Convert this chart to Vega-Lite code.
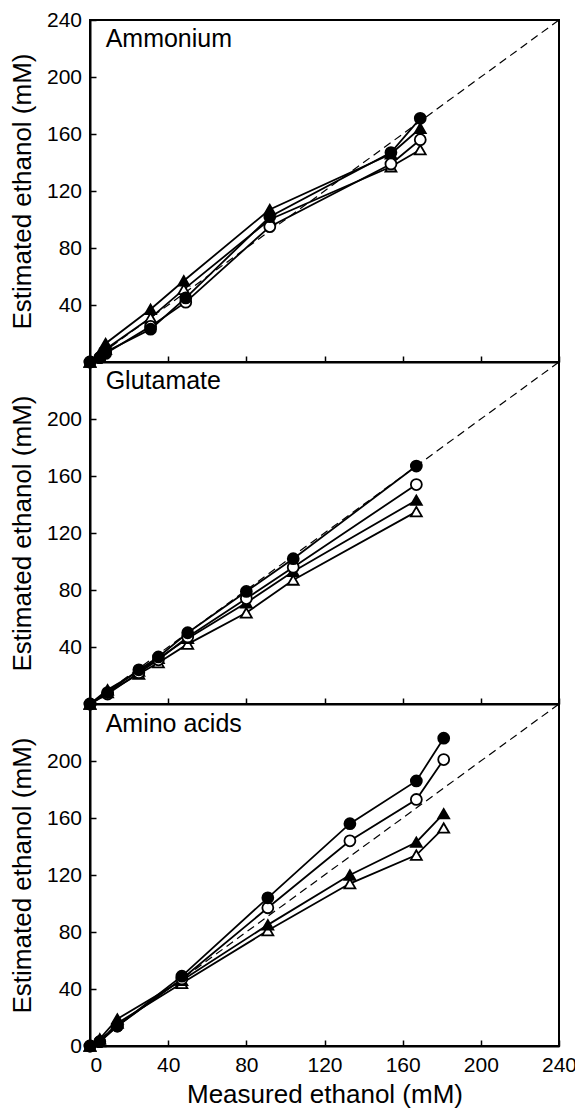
{
  "$schema": "https://vega.github.io/schema/vega-lite/v6.json",
  "padding": {"left": 8, "top": 8, "right": 0, "bottom": 0},
  "spacing": 0,
  "bounds": "flush",
  "background": "white",
  "config": {
    "font": "Liberation Sans",
    "concat": {"spacing": 0},
    "view": {"stroke": "black", "strokeWidth": 2},
    "axis": {
      "domainColor": "black", "domainWidth": 2,
      "tickColor": "black", "tickWidth": 1.5, "tickSize": -6,
      "labelFontSize": 21, "labelColor": "black", "labelPadding": 14.5,
      "titleFontSize": 26, "titleFontWeight": "normal", "titleColor": "black",
      "grid": false
    }
  },
  "datasets": {
    "diag": [{"x": 0, "y": 0}, {"x": 240, "y": 240}],
    "labels": [
      {"panel": "Ammonium", "x": 8, "y": 227, "text": "Ammonium"},
      {"panel": "Glutamate", "x": 8, "y": 227, "text": "Glutamate"},
      {"panel": "Amino acids", "x": 8, "y": 226, "text": "Amino acids"}
    ],
    "obs": [
      {"panel": "Ammonium", "series": "ot", "x": 0, "y": 0},
      {"panel": "Ammonium", "series": "ot", "x": 5, "y": 4},
      {"panel": "Ammonium", "series": "ot", "x": 8, "y": 9},
      {"panel": "Ammonium", "series": "ot", "x": 31, "y": 31},
      {"panel": "Ammonium", "series": "ot", "x": 48, "y": 51},
      {"panel": "Ammonium", "series": "ot", "x": 92, "y": 100},
      {"panel": "Ammonium", "series": "ot", "x": 154, "y": 137},
      {"panel": "Ammonium", "series": "ot", "x": 169, "y": 149},
      {"panel": "Ammonium", "series": "ft", "x": 0, "y": 0},
      {"panel": "Ammonium", "series": "ft", "x": 5, "y": 6},
      {"panel": "Ammonium", "series": "ft", "x": 8, "y": 13},
      {"panel": "Ammonium", "series": "ft", "x": 31, "y": 37},
      {"panel": "Ammonium", "series": "ft", "x": 48, "y": 57},
      {"panel": "Ammonium", "series": "ft", "x": 92, "y": 107},
      {"panel": "Ammonium", "series": "ft", "x": 154, "y": 146},
      {"panel": "Ammonium", "series": "ft", "x": 169, "y": 164},
      {"panel": "Ammonium", "series": "oc", "x": 0, "y": 0},
      {"panel": "Ammonium", "series": "oc", "x": 5, "y": 3},
      {"panel": "Ammonium", "series": "oc", "x": 8, "y": 6},
      {"panel": "Ammonium", "series": "oc", "x": 31, "y": 25},
      {"panel": "Ammonium", "series": "oc", "x": 49, "y": 42},
      {"panel": "Ammonium", "series": "oc", "x": 92, "y": 95},
      {"panel": "Ammonium", "series": "oc", "x": 154, "y": 139},
      {"panel": "Ammonium", "series": "oc", "x": 169, "y": 156},
      {"panel": "Ammonium", "series": "fc", "x": 0, "y": 0},
      {"panel": "Ammonium", "series": "fc", "x": 5, "y": 3},
      {"panel": "Ammonium", "series": "fc", "x": 8, "y": 7},
      {"panel": "Ammonium", "series": "fc", "x": 31, "y": 23},
      {"panel": "Ammonium", "series": "fc", "x": 49, "y": 45},
      {"panel": "Ammonium", "series": "fc", "x": 92, "y": 102},
      {"panel": "Ammonium", "series": "fc", "x": 154, "y": 147},
      {"panel": "Ammonium", "series": "fc", "x": 169, "y": 171},

      {"panel": "Glutamate", "series": "ot", "x": 0, "y": 0},
      {"panel": "Glutamate", "series": "ot", "x": 9, "y": 8},
      {"panel": "Glutamate", "series": "ot", "x": 25, "y": 21},
      {"panel": "Glutamate", "series": "ot", "x": 35, "y": 29},
      {"panel": "Glutamate", "series": "ot", "x": 50, "y": 42},
      {"panel": "Glutamate", "series": "ot", "x": 80, "y": 64},
      {"panel": "Glutamate", "series": "ot", "x": 104, "y": 87},
      {"panel": "Glutamate", "series": "ot", "x": 167, "y": 135},
      {"panel": "Glutamate", "series": "ft", "x": 0, "y": 0},
      {"panel": "Glutamate", "series": "ft", "x": 9, "y": 10},
      {"panel": "Glutamate", "series": "ft", "x": 25, "y": 23},
      {"panel": "Glutamate", "series": "ft", "x": 35, "y": 32},
      {"panel": "Glutamate", "series": "ft", "x": 50, "y": 46},
      {"panel": "Glutamate", "series": "ft", "x": 80, "y": 71},
      {"panel": "Glutamate", "series": "ft", "x": 104, "y": 93},
      {"panel": "Glutamate", "series": "ft", "x": 167, "y": 143},
      {"panel": "Glutamate", "series": "oc", "x": 0, "y": 0},
      {"panel": "Glutamate", "series": "oc", "x": 9, "y": 7},
      {"panel": "Glutamate", "series": "oc", "x": 25, "y": 22},
      {"panel": "Glutamate", "series": "oc", "x": 35, "y": 31},
      {"panel": "Glutamate", "series": "oc", "x": 50, "y": 47},
      {"panel": "Glutamate", "series": "oc", "x": 80, "y": 74},
      {"panel": "Glutamate", "series": "oc", "x": 104, "y": 96},
      {"panel": "Glutamate", "series": "oc", "x": 167, "y": 154},
      {"panel": "Glutamate", "series": "fc", "x": 0, "y": 0},
      {"panel": "Glutamate", "series": "fc", "x": 9, "y": 8},
      {"panel": "Glutamate", "series": "fc", "x": 25, "y": 24},
      {"panel": "Glutamate", "series": "fc", "x": 35, "y": 33},
      {"panel": "Glutamate", "series": "fc", "x": 50, "y": 50},
      {"panel": "Glutamate", "series": "fc", "x": 80, "y": 79},
      {"panel": "Glutamate", "series": "fc", "x": 104, "y": 102},
      {"panel": "Glutamate", "series": "fc", "x": 167, "y": 167},

      {"panel": "Amino acids", "series": "ot", "x": 0, "y": 0},
      {"panel": "Amino acids", "series": "ot", "x": 5, "y": 3},
      {"panel": "Amino acids", "series": "ot", "x": 14, "y": 16},
      {"panel": "Amino acids", "series": "ot", "x": 47, "y": 44},
      {"panel": "Amino acids", "series": "ot", "x": 91, "y": 81},
      {"panel": "Amino acids", "series": "ot", "x": 133, "y": 114},
      {"panel": "Amino acids", "series": "ot", "x": 167, "y": 134},
      {"panel": "Amino acids", "series": "ot", "x": 181, "y": 153},
      {"panel": "Amino acids", "series": "ft", "x": 0, "y": 0},
      {"panel": "Amino acids", "series": "ft", "x": 5, "y": 5},
      {"panel": "Amino acids", "series": "ft", "x": 14, "y": 19},
      {"panel": "Amino acids", "series": "ft", "x": 47, "y": 46},
      {"panel": "Amino acids", "series": "ft", "x": 91, "y": 85},
      {"panel": "Amino acids", "series": "ft", "x": 133, "y": 120},
      {"panel": "Amino acids", "series": "ft", "x": 167, "y": 143},
      {"panel": "Amino acids", "series": "ft", "x": 181, "y": 163},
      {"panel": "Amino acids", "series": "oc", "x": 0, "y": 0},
      {"panel": "Amino acids", "series": "oc", "x": 5, "y": 3},
      {"panel": "Amino acids", "series": "oc", "x": 14, "y": 14},
      {"panel": "Amino acids", "series": "oc", "x": 47, "y": 47},
      {"panel": "Amino acids", "series": "oc", "x": 91, "y": 97},
      {"panel": "Amino acids", "series": "oc", "x": 133, "y": 144},
      {"panel": "Amino acids", "series": "oc", "x": 167, "y": 173},
      {"panel": "Amino acids", "series": "oc", "x": 181, "y": 201},
      {"panel": "Amino acids", "series": "fc", "x": 0, "y": 0},
      {"panel": "Amino acids", "series": "fc", "x": 5, "y": 3},
      {"panel": "Amino acids", "series": "fc", "x": 14, "y": 14},
      {"panel": "Amino acids", "series": "fc", "x": 47, "y": 49},
      {"panel": "Amino acids", "series": "fc", "x": 91, "y": 104},
      {"panel": "Amino acids", "series": "fc", "x": 133, "y": 156},
      {"panel": "Amino acids", "series": "fc", "x": 167, "y": 186},
      {"panel": "Amino acids", "series": "fc", "x": 181, "y": 216}
    ]
  },
  "vconcat": [
    {
      "width": 469, "height": 342,
      "encoding": {
        "x": {"field": "x", "type": "quantitative", "scale": {"domain": [0, 240], "nice": false, "zero": false},
              "axis": {"values": [0, 40, 80, 120, 160, 200, 240], "labels": false, "title": null}},
        "y": {"field": "y", "type": "quantitative", "scale": {"domain": [0, 240], "nice": false},
              "axis": {"values": [0, 40, 80, 120, 160, 200, 240], "title": "Estimated ethanol (mM)", "titlePadding": 10.5,
                       "labelExpr": "datum.value === 0 ? '' : datum.label"}}
      },
      "layer": [
        {"data": {"name": "diag"}, "mark": {"type": "line", "color": "black", "strokeWidth": 1.2, "strokeDash": [8, 5]}},
        {"data": {"name": "obs"}, "transform": [{"filter": "datum.panel === 'Ammonium'"}],
         "mark": {"type": "line", "color": "black", "strokeWidth": 1.8},
         "encoding": {"detail": {"field": "series"}}},
        {"data": {"name": "obs"}, "transform": [{"filter": "datum.panel === 'Ammonium'"}],
         "mark": {"type": "point", "filled": true, "stroke": "black", "strokeWidth": 1.8, "size": 120, "opacity": 1},
         "encoding": {
           "shape": {"field": "series", "scale": {"domain": ["fc", "oc", "ft", "ot"], "range": ["circle", "circle", "triangle-up", "triangle-up"]}, "legend": null},
           "fill": {"field": "series", "scale": {"domain": ["fc", "oc", "ft", "ot"], "range": ["black", "white", "black", "white"]}, "legend": null}
         }},
        {"data": {"name": "labels"}, "transform": [{"filter": "datum.panel === 'Ammonium'"}],
         "mark": {"type": "text", "align": "left", "baseline": "middle", "fontSize": 25, "color": "black"},
         "encoding": {"text": {"field": "text"}}}
      ]
    },
    {
      "width": 469, "height": 342,
      "encoding": {
        "x": {"field": "x", "type": "quantitative", "scale": {"domain": [0, 240], "nice": false, "zero": false},
              "axis": {"values": [0, 40, 80, 120, 160, 200, 240], "labels": false, "title": null}},
        "y": {"field": "y", "type": "quantitative", "scale": {"domain": [0, 240], "nice": false},
              "axis": {"values": [0, 40, 80, 120, 160, 200, 240], "title": "Estimated ethanol (mM)", "titlePadding": 10.5,
                       "labelExpr": "(datum.value === 0 || datum.value === 240) ? '' : datum.label"}}
      },
      "layer": [
        {"data": {"name": "diag"}, "mark": {"type": "line", "color": "black", "strokeWidth": 1.2, "strokeDash": [8, 5]}},
        {"data": {"name": "obs"}, "transform": [{"filter": "datum.panel === 'Glutamate'"}],
         "mark": {"type": "line", "color": "black", "strokeWidth": 1.8},
         "encoding": {"detail": {"field": "series"}}},
        {"data": {"name": "obs"}, "transform": [{"filter": "datum.panel === 'Glutamate'"}],
         "mark": {"type": "point", "filled": true, "stroke": "black", "strokeWidth": 1.8, "size": 120, "opacity": 1},
         "encoding": {
           "shape": {"field": "series", "scale": {"domain": ["fc", "oc", "ft", "ot"], "range": ["circle", "circle", "triangle-up", "triangle-up"]}, "legend": null},
           "fill": {"field": "series", "scale": {"domain": ["fc", "oc", "ft", "ot"], "range": ["black", "white", "black", "white"]}, "legend": null}
         }},
        {"data": {"name": "labels"}, "transform": [{"filter": "datum.panel === 'Glutamate'"}],
         "mark": {"type": "text", "align": "left", "baseline": "middle", "fontSize": 25, "color": "black"},
         "encoding": {"text": {"field": "text"}}}
      ]
    },
    {
      "width": 469, "height": 342,
      "encoding": {
        "x": {"field": "x", "type": "quantitative", "scale": {"domain": [0, 240], "nice": false, "zero": false},
              "axis": {"values": [0, 40, 80, 120, 160, 200, 240], "title": "Measured ethanol (mM)", "titlePadding": 6,
                       "labelAlign": {"condition": {"test": "datum.value === 0", "value": "left"}, "value": "center"}}},
        "y": {"field": "y", "type": "quantitative", "scale": {"domain": [0, 240], "nice": false},
              "axis": {"values": [0, 40, 80, 120, 160, 200, 240], "title": "Estimated ethanol (mM)", "titlePadding": 10.5,
                       "labelExpr": "datum.value === 240 ? '' : datum.label"}}
      },
      "layer": [
        {"data": {"name": "diag"}, "mark": {"type": "line", "color": "black", "strokeWidth": 1.2, "strokeDash": [8, 5]}},
        {"data": {"name": "obs"}, "transform": [{"filter": "datum.panel === 'Amino acids'"}],
         "mark": {"type": "line", "color": "black", "strokeWidth": 1.8},
         "encoding": {"detail": {"field": "series"}}},
        {"data": {"name": "obs"}, "transform": [{"filter": "datum.panel === 'Amino acids'"}],
         "mark": {"type": "point", "filled": true, "stroke": "black", "strokeWidth": 1.8, "size": 120, "opacity": 1},
         "encoding": {
           "shape": {"field": "series", "scale": {"domain": ["fc", "oc", "ft", "ot"], "range": ["circle", "circle", "triangle-up", "triangle-up"]}, "legend": null},
           "fill": {"field": "series", "scale": {"domain": ["fc", "oc", "ft", "ot"], "range": ["black", "white", "black", "white"]}, "legend": null}
         }},
        {"data": {"name": "labels"}, "transform": [{"filter": "datum.panel === 'Amino acids'"}],
         "mark": {"type": "text", "align": "left", "baseline": "middle", "fontSize": 25, "color": "black"},
         "encoding": {"text": {"field": "text"}}}
      ]
    }
  ]
}
